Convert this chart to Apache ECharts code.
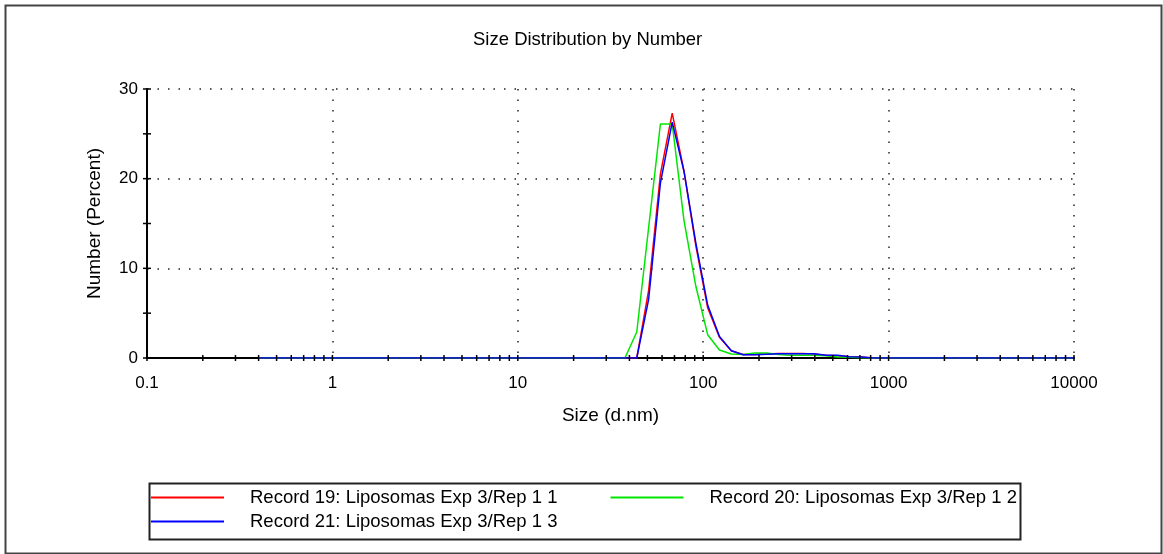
<!DOCTYPE html>
<html>
<head>
<meta charset="UTF-8">
<title>Size Distribution by Number</title>
<script src="https://cdn.jsdelivr.net/npm/echarts@6/dist/echarts.min.js"></script>
<style>
  html, body { margin: 0; padding: 0; background: #fff; }
  #chart { width: 1163px; height: 554px; }
</style>
</head>
<body>
<div id="chart"></div>
<script>
// size classes (d.nm)
const sizes = [
  0.4, 0.4632, 0.5365, 0.6213, 0.7195, 0.8332, 0.9649, 1.117, 1.294, 1.499,
  1.736, 2.01, 2.328, 2.696, 3.122, 3.615, 4.187, 4.849, 5.615, 6.503,
  7.531, 8.721, 10.1, 11.7, 13.54, 15.69, 18.17, 21.04, 24.36, 28.21,
  32.67, 37.84, 43.82, 50.75, 58.77, 68.06, 78.82, 91.28, 105.7, 122.4,
  141.8, 164.2, 190.1, 220.2, 255, 295.3, 342, 396.1, 458.7, 531.2,
  615.1, 712.4, 825, 955.4, 1106, 1281, 1484, 1718, 1990, 2305,
  2669, 3091, 3580, 4145, 4801, 5560, 6439, 7456, 8635, 10000
];

// number (percent) per size class
const record19 = [
  0, 0, 0, 0, 0, 0, 0, 0, 0, 0,
  0, 0, 0, 0, 0, 0, 0, 0, 0, 0,
  0, 0, 0, 0, 0, 0, 0, 0, 0, 0,
  0, 0, 0, 7.5, 20.5, 27.3, 20.8, 12.5, 5.6, 2.3,
  0.8, 0.4, 0.4, 0.45, 0.5, 0.5, 0.5, 0.45, 0.3, 0.25,
  0.15, 0.1, 0, 0, 0, 0, 0, 0, 0, 0,
  0, 0, 0, 0, 0, 0, 0, 0, 0, 0
];
const record20 = [
  0, 0, 0, 0, 0, 0, 0, 0, 0, 0,
  0, 0, 0, 0, 0, 0, 0, 0, 0, 0,
  0, 0, 0, 0, 0, 0, 0, 0, 0, 0,
  0, 0, 2.9, 14.5, 26.1, 26.1, 15.3, 8.0, 2.6, 0.9,
  0.45, 0.4, 0.55, 0.55, 0.4, 0.3, 0.3, 0.3, 0.25, 0.1,
  0.07, 0.04, 0, 0, 0, 0, 0, 0, 0, 0,
  0, 0, 0, 0, 0, 0, 0, 0, 0, 0
];
const record21 = [
  0, 0, 0, 0, 0, 0, 0, 0, 0, 0,
  0, 0, 0, 0, 0, 0, 0, 0, 0, 0,
  0, 0, 0, 0, 0, 0, 0, 0, 0, 0,
  0, 0, 0, 6.5, 19.5, 26.3, 20.8, 12.8, 5.9, 2.4,
  0.8, 0.37, 0.37, 0.42, 0.48, 0.48, 0.48, 0.48, 0.3, 0.3,
  0.14, 0.1, 0, 0, 0, 0, 0, 0, 0, 0,
  0, 0, 0, 0, 0, 0, 0, 0, 0, 0
];

const names = [
  'Record 19: Liposomas Exp 3/Rep 1 1',
  'Record 20: Liposomas Exp 3/Rep 1 2',
  'Record 21: Liposomas Exp 3/Rep 1 3'
];
const colors = ['#ff0000', '#00e600', '#0000ff'];

// tick marks (they cross the axis lines)
const xTicks = [
  0.1, 0.2, 0.3, 0.4, 0.5, 0.6, 0.7, 0.8, 0.9,
  1, 2, 3, 4, 5, 6, 7, 8, 9,
  10, 20, 30, 40, 50, 60, 70, 80, 90,
  100, 200, 300, 400, 500, 600, 700, 800, 900,
  1000, 2000, 3000, 4000, 5000, 6000, 7000, 8000, 9000, 10000
];
const yTicks = [0, 5, 10, 15, 20, 25, 30];

const chart = echarts.init(document.getElementById('chart'));
const pair = vals => sizes.map((s, i) => [s, vals[i]]);
const dotted = { color: '#222', width: 1.5, type: [1.5, 9] };
const fontFamily = '"Liberation Sans", Arial, sans-serif';

const lineSeries = [record19, record20, record21].map((vals, i) => ({
  name: names[i],
  type: 'line',
  data: pair(vals),
  symbol: 'none',
  color: colors[i],
  lineStyle: { width: 1.5, color: colors[i] },
  z: 3
}));

function tickSeries(name, data, vertical) {
  return {
    name: name,
    type: 'custom',
    silent: true,
    clip: false,
    z: 4,
    data: data,
    encode: { x: 0, y: 1 },
    renderItem: (params, api) => {
      const p = api.coord([api.value(0), api.value(1)]);
      const shape = vertical
        ? { x1: p[0], y1: p[1] - 3, x2: p[0], y2: p[1] + 3 }
        : { x1: p[0] - 4, y1: p[1], x2: p[0] + 4, y2: p[1] };
      return { type: 'line', shape: shape, style: { stroke: '#000', lineWidth: 1.5 } };
    }
  };
}

chart.setOption({
  animation: false,
  textStyle: { fontFamily: fontFamily, color: '#000' },
  title: {
    text: 'Size Distribution by Number',
    left: 468, top: 25,
    textStyle: { fontSize: 18.5, fontWeight: 'normal', color: '#000', fontFamily: fontFamily }
  },
  grid: { left: 147, right: 89, top: 89, bottom: 196 },
  legend: [
    {
      data: [names[0], names[1]],
      left: 151, top: 488, padding: 0,
      icon: 'rect', itemWidth: 73, itemHeight: 2, itemGap: 53,
      textStyle: { fontSize: 18.5, color: '#000', padding: [0, 0, 0, 21] }
    },
    {
      data: [names[2]],
      left: 151, top: 512, padding: 0,
      icon: 'rect', itemWidth: 73, itemHeight: 2,
      textStyle: { fontSize: 18.5, color: '#000', padding: [0, 0, 0, 21] }
    }
  ],
  xAxis: {
    type: 'log', logBase: 10, min: 0.1, max: 10000,
    name: 'Size (d.nm)', nameLocation: 'middle', nameGap: 48,
    nameTextStyle: { fontSize: 19, color: '#000' },
    axisLine: { lineStyle: { color: '#000', width: 2 } },
    axisTick: { show: false },
    axisLabel: { fontSize: 17, color: '#000', margin: 17, formatter: v => String(v) },
    splitLine: { show: true, lineStyle: dotted }
  },
  yAxis: {
    type: 'value', min: 0, max: 30, interval: 10,
    name: 'Number (Percent)', nameLocation: 'middle', nameGap: 43,
    nameTextStyle: { fontSize: 19, color: '#000' },
    axisLine: { show: true, lineStyle: { color: '#000', width: 2 } },
    axisTick: { show: false },
    axisLabel: { fontSize: 17, color: '#000', margin: 9 },
    splitLine: { show: true, lineStyle: dotted }
  },
  graphic: [
    {
      type: 'rect', left: 3, top: 3, silent: true,
      shape: { width: 1156, height: 548 },
      style: { fill: 'none', stroke: '#444', lineWidth: 2 }
    },
    {
      type: 'rect', left: 147, top: 481, silent: true,
      shape: { width: 871, height: 56 },
      style: { fill: 'none', stroke: '#222', lineWidth: 2 }
    }
  ],
  series: [
    ...lineSeries,
    tickSeries('x ticks', xTicks.map(v => [v, 0]), true),
    tickSeries('y ticks', yTicks.map(v => [0.1, v]), false)
  ]
});
</script>
</body>
</html>
